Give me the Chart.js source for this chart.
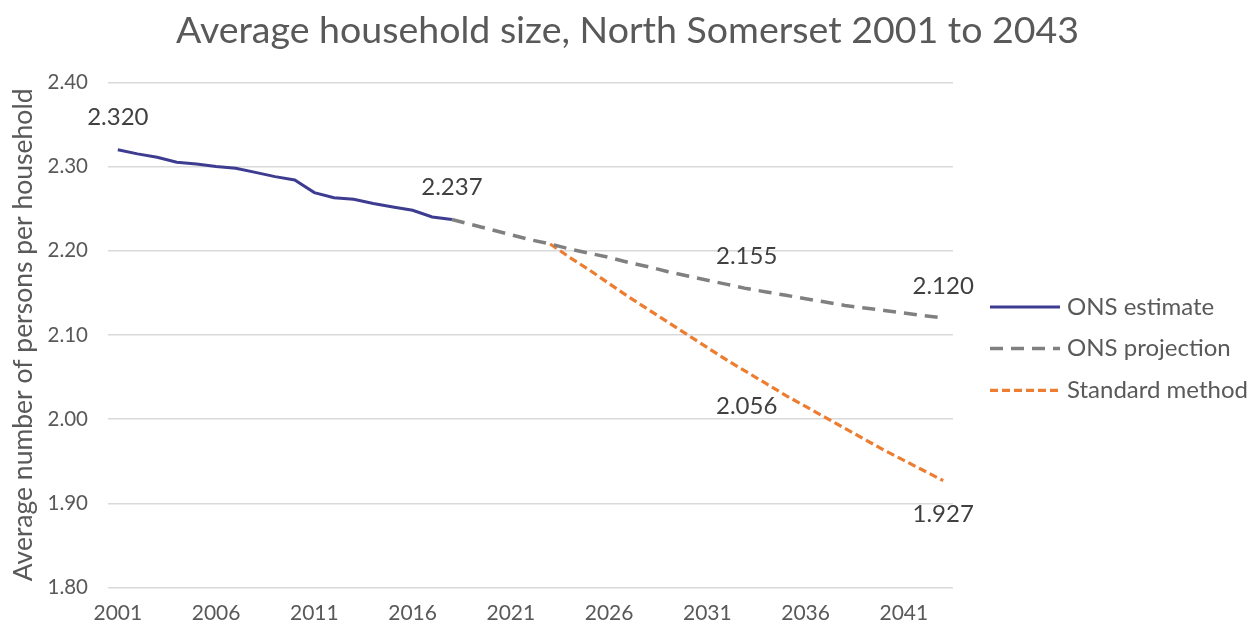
<!DOCTYPE html>
<html>
<head>
<meta charset="utf-8">
<script src="https://cdn.jsdelivr.net/npm/chart.js@4/dist/chart.umd.min.js"></script>
<style>
html,body{margin:0;padding:0;background:#fff;}
#wrap{width:1255px;height:626px;position:relative;}
</style>
</head>
<body>
<div id="wrap"><canvas id="c" width="1255" height="626"></canvas></div>
<script>
const years = [];
for (let y = 2001; y <= 2043; y++) years.push(String(y));

const onsEstimate = [2.320, 2.315, 2.311, 2.305, 2.303, 2.300, 2.298, 2.293, 2.288, 2.284,
  2.269, 2.263, 2.261, 2.256, 2.252, 2.248, 2.240, 2.237];
const onsProjection = [2.237, 2.231, 2.225, 2.219, 2.213, 2.208, 2.202, 2.197, 2.192, 2.186,
  2.181, 2.175, 2.170, 2.165, 2.160, 2.155, 2.151, 2.147, 2.143, 2.139,
  2.135, 2.132, 2.129, 2.126, 2.123, 2.120];
const standardMethod = [2.208, 2.192, 2.177, 2.161, 2.145, 2.130, 2.115, 2.100, 2.085, 2.070,
  2.056, 2.042, 2.028, 2.015, 2.002, 1.989, 1.976, 1.963, 1.951, 1.939, 1.927];

const estimateStart = '2001';
const projectionStart = '2018';
const standardStart = '2023';

// data labels: [year, position]
const estimateLabels = [['2001', 'above'], ['2018', 'above']];
const projectionLabels = [['2033', 'above'], ['2043', 'above']];
const standardLabels = [['2033', 'below'], ['2043', 'below']];

const yTickValues = [1.80, 1.90, 2.00, 2.10, 2.20, 2.30, 2.40];
const xTickLabels = ['2001', '2006', '2011', '2016', '2021', '2026', '2031', '2036', '2041'];

function place(values, startYear) {
  const out = years.map(() => null);
  const s = years.indexOf(startYear);
  values.forEach((v, i) => { out[s + i] = v; });
  return out;
}

const FONT = 'Lato, "Open Sans", sans-serif';

const dataLabelPlugin = {
  id: 'dataLabels',
  afterDatasetsDraw(chart) {
    const ctx = chart.ctx;
    const xs = chart.scales.x, ys = chart.scales.y;
    ctx.save();
    ctx.font = '24px ' + FONT;
    ctx.fillStyle = '#404040';
    ctx.textAlign = 'center';
    ctx.textBaseline = 'middle';
    chart.data.datasets.forEach((ds) => {
      (ds.valueLabels || []).forEach(([yr, pos]) => {
        const i = years.indexOf(yr);
        const v = ds.data[i];
        const px = xs.getPixelForValue(i);
        const py = ys.getPixelForValue(v);
        const off = pos === 'above' ? -32 : 34;
        ctx.fillText(v.toFixed(3), px, py + off);
      });
    });
    ctx.restore();
  }
};

const legendPlugin = {
  id: 'sideLegend',
  afterDraw(chart) {
    const ctx = chart.ctx;
    const area = chart.chartArea;
    const x0 = area.right + 37;
    const lineLen = 70;
    const y0 = (area.top + area.bottom) / 2 - 28;
    const step = 41.7;
    ctx.save();
    ctx.font = '24px ' + FONT;
    ctx.textBaseline = 'middle';
    ctx.textAlign = 'left';
    chart.data.datasets.forEach((ds, k) => {
      const y = y0 + k * step;
      ctx.beginPath();
      ctx.strokeStyle = ds.borderColor;
      ctx.lineWidth = ds.borderWidth;
      ctx.setLineDash(ds.borderDash || []);
      ctx.moveTo(x0, y);
      ctx.lineTo(x0 + lineLen, y);
      ctx.stroke();
      ctx.setLineDash([]);
      ctx.fillStyle = '#595959';
      ctx.fillText(ds.label, x0 + lineLen + 7, y);
    });
    ctx.restore();
  }
};

new Chart(document.getElementById('c'), {
  type: 'line',
  data: {
    labels: years,
    datasets: [
      {
        label: 'ONS estimate',
        data: place(onsEstimate, estimateStart),
        borderColor: '#3e3c91',
        borderWidth: 3,
        pointRadius: 0,
        tension: 0,
        valueLabels: estimateLabels
      },
      {
        label: 'ONS projection',
        data: place(onsProjection, projectionStart),
        borderColor: '#808080',
        borderWidth: 3.5,
        borderDash: [13, 8],
        pointRadius: 0,
        tension: 0,
        valueLabels: projectionLabels
      },
      {
        label: 'Standard method',
        data: place(standardMethod, standardStart),
        borderColor: '#ed7d31',
        borderWidth: 3.2,
        borderDash: [8, 4],
        pointRadius: 0,
        tension: 0,
        valueLabels: standardLabels
      }
    ]
  },
  options: {
    responsive: false,
    animation: false,
    layout: { padding: { left: 0, right: 0, top: 0, bottom: 0 } },
    plugins: {
      legend: { display: false },
      tooltip: { enabled: false },
      title: {
        display: true,
        text: 'Average household size, North Somerset 2001 to 2043',
        color: '#595959',
        font: { family: FONT, size: 37.5, weight: 'normal' },
        padding: { top: 8, bottom: 29.3 }
      }
    },
    scales: {
      x: {
        type: 'category',
        offset: true,
        grid: { display: false, drawTicks: false },
        border: { display: false },
        afterFit: (scale) => { scale.height = 38.5; },
        ticks: {
          autoSkip: false,
          maxRotation: 0,
          padding: 13,
          color: '#595959',
          font: { family: FONT, size: 21 },
          callback: function (val, idx) {
            const lab = years[idx];
            return xTickLabels.includes(lab) ? lab : null;
          }
        }
      },
      y: {
        min: 1.8,
        max: 2.4,
        afterBuildTicks: (scale) => { scale.ticks = yTickValues.map(v => ({ value: v })); },
        afterFit: (scale) => { scale.width = 108; },
        grid: { color: '#d9d9d9', lineWidth: 1.5, drawTicks: false },
        border: { display: false },
        ticks: {
          padding: 20,
          color: '#595959',
          font: { family: FONT, size: 20.5 },
          callback: (v) => Number(v).toFixed(2)
        },
        title: {
          display: true,
          text: 'Average number of persons per household',
          color: '#595959',
          font: { family: FONT, size: 26.5 },
          padding: { top: 8, bottom: 0 }
        }
      },
      legendSpace: {
        type: 'linear',
        position: 'right',
        display: true,
        grid: { display: false, drawTicks: false },
        border: { display: false },
        ticks: { display: false },
        afterFit: (scale) => { scale.width = 302; }
      }
    }
  },
  plugins: [dataLabelPlugin, legendPlugin]
});
</script>
</body>
</html>
